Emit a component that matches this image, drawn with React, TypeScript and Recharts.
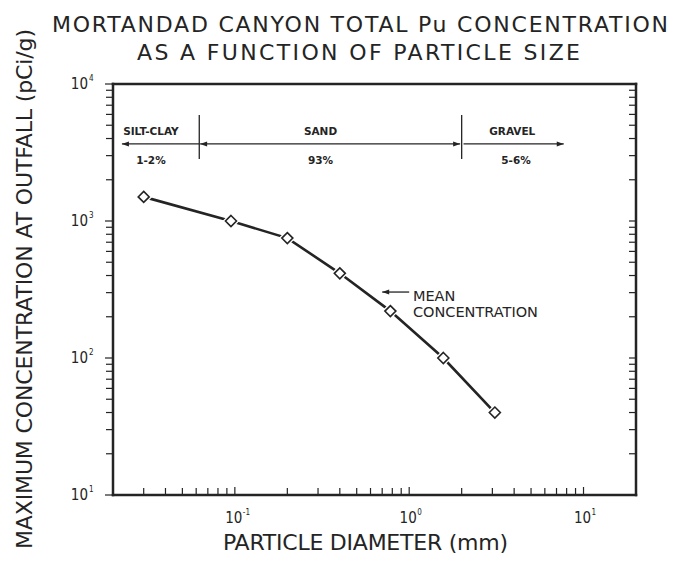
import React from "react";
import { LineChart, Line, XAxis, YAxis, ReferenceLine, ReferenceDot } from "recharts";

// measured points: particle diameter (mm) vs max concentration (pCi/g)
const diameters = [0.03, 0.095, 0.2, 0.4, 0.78, 1.57, 3.1];
const concentrations = [1500, 1000, 750, 415, 220, 100, 40];

const xDomain = [0.02, 20];
const yDomain = [10, 10000];
const xAllTicks = [
  0.03, 0.04, 0.05, 0.06, 0.07, 0.08, 0.09, 0.1,
  0.2, 0.3, 0.4, 0.5, 0.6, 0.7, 0.8, 0.9, 1,
  2, 3, 4, 5, 6, 7, 8, 9, 10,
];
const yAllTicks = [
  10, 20, 30, 40, 50, 60, 70, 80, 90,
  100, 200, 300, 400, 500, 600, 700, 800, 900,
  1000, 2000, 3000, 4000, 5000, 6000, 7000, 8000, 9000, 10000,
];

// size classes across the top
const zoneNames = ["SILT-CLAY", "SAND", "GRAVEL"];
const zoneShares = ["1-2%", "93%", "5-6%"];
const zoneNameX = [0.033, 0.31, 3.9];
const zoneShareX = [0.033, 0.31, 4.1];
const zoneBounds = [0.0625, 2];
const zoneArrows = [
  { from: 0.0625, to: 0.0225, headStart: false, headEnd: true },
  { from: 0.0632, to: 1.96, headStart: true, headEnd: true },
  { from: 2.05, to: 7.7, headStart: false, headEnd: true },
];
const ZONE_NAME_Y = 4250;
const ZONE_SHARE_Y = 2600;
const ZONE_ARROW_Y = 3650;
const ZONE_LINE_TOP = 5940;
const ZONE_LINE_BOTTOM = 2840;

// "mean concentration" pointer
const meanArrow = { from: 1.0, to: 0.7, y: 303 };
const meanText = [
  { text: "MEAN", x: 1.05, y: 261 },
  { text: "CONCENTRATION", x: 1.05, y: 199 },
];

const data = diameters.map((d, i) => ({ d, c: concentrations[i] }));

const INK = "#242424";
const FONT = "'DejaVu Sans', sans-serif";
const TICK_FONT = "'DejaVu Sans Condensed', 'DejaVu Sans', sans-serif";
const TICK_LEN = 7;

const isMajor = (v: number) => {
  const l = Math.log10(v);
  return Math.abs(l - Math.round(l)) < 1e-6;
};

// bottom axis: inward tick plus label on the decades
function XTick(props: any) {
  const { x, y, payload } = props;
  const major = isMajor(payload.value);
  const exp = Math.round(Math.log10(payload.value));
  return (
    <g fill={INK} fontFamily={TICK_FONT}>
      <line x1={x} y1={y} x2={x} y2={y - (major ? TICK_LEN + 1 : TICK_LEN)} stroke={INK} strokeWidth={1.2} />
      {major && (
        <>
          <text x={x - 1} y={y + 28} fontSize={15} textAnchor="middle">10</text>
          <text x={x + 8} y={y + 20} fontSize={8} textAnchor="start">{exp}</text>
        </>
      )}
    </g>
  );
}

// left axis: outward tick plus label on the decades
function YTick(props: any) {
  const { x, y, payload } = props;
  const major = isMajor(payload.value);
  const exp = Math.round(Math.log10(payload.value));
  return (
    <g fill={INK} fontFamily={TICK_FONT}>
      <line x1={x} y1={y} x2={x - (major ? TICK_LEN + 1 : TICK_LEN)} y2={y} stroke={INK} strokeWidth={1.2} />
      {major && (
        <>
          <text x={x - 25} y={y + 5} fontSize={15} textAnchor="end">10</text>
          <text x={x - 24} y={y - 3} fontSize={8} textAnchor="start">{exp}</text>
        </>
      )}
    </g>
  );
}

// inward tick marks for top and right
function makeMark(dx: number, dy: number) {
  return function Mark(props: any) {
    const { x, y } = props;
    return <line x1={x} y1={y} x2={x + dx * TICK_LEN} y2={y + dy * TICK_LEN} stroke={INK} strokeWidth={1.2} />;
  };
}
const TopMark = makeMark(0, 1);
const RightMark = makeMark(-1, 0);

const diamond = (cx: number, cy: number, r: number) =>
  `M${cx},${cy - r}L${cx + r},${cy}L${cx},${cy + r}L${cx - r},${cy}Z`;

function DiamondDot(props: any) {
  const { cx, cy, index } = props;
  if (cx == null || cy == null) return null;
  return (
    <g key={`dot-${index}`}>
      <path d={diamond(cx, cy, 8.5)} fill="#fff" />
      <path d={diamond(cx, cy, 5.5)} fill="#fff" stroke={INK} strokeWidth={1.6} />
    </g>
  );
}

function ArrowShape(props: any) {
  const { x1, y1, x2, y2, headStart, headEnd } = props;
  const head = (tx: number, ty: number, fx: number) => {
    const dir = tx > fx ? 1 : -1;
    return (
      <path
        d={`M${tx},${ty}L${tx - dir * 7},${ty - 2.5}L${tx - dir * 7},${ty + 2.5}Z`}
        fill={INK}
      />
    );
  };
  return (
    <g>
      <line x1={x1} y1={y1} x2={x2} y2={y2} stroke={INK} strokeWidth={1.3} />
      {headStart && head(x1, y1, x2)}
      {headEnd && head(x2, y2, x1)}
    </g>
  );
}

function Label(props: any) {
  const { cx, cy, text, size, weight } = props;
  return (
    <text x={cx} y={cy} fill={INK} fontSize={size} fontWeight={weight} fontFamily={FONT}
      textAnchor={props.anchor || "middle"}>
      {text}
    </text>
  );
}

export default function App() {
  const frameLine = { stroke: INK, strokeWidth: 2.5, strokeLinecap: "square" as const };
  return (
    <div style={{ position: "relative", width: 676, height: 572, background: "#fff" }}>
      <style>{"body{margin:0;background:#fff}"}</style>
      <LineChart
        width={676}
        height={572}
        data={data}
        margin={{ top: 84, right: 40, bottom: 37, left: 53 }}
      >
        <XAxis
          xAxisId="x"
          dataKey="d"
          type="number"
          scale="log"
          domain={xDomain}
          allowDataOverflow
          ticks={xAllTicks}
          interval={0}
          height={40}
          tickSize={0}
          tickMargin={0}
          tickLine={false}
          axisLine={frameLine}
          tick={<XTick />}
        />
        <XAxis
          xAxisId="xt"
          type="number"
          scale="log"
          domain={xDomain}
          allowDataOverflow
          ticks={xAllTicks}
          interval={0}
          orientation="top"
          mirror
          tickSize={0}
          tickMargin={0}
          tickLine={false}
          tick={<TopMark />}
          axisLine={frameLine}
        />
        <YAxis
          yAxisId="y"
          type="number"
          scale="log"
          domain={yDomain}
          allowDataOverflow
          ticks={yAllTicks}
          interval={0}
          width={60}
          tickSize={0}
          tickMargin={0}
          tickLine={false}
          axisLine={frameLine}
          tick={<YTick />}
        />
        <YAxis
          yAxisId="yr"
          type="number"
          scale="log"
          domain={yDomain}
          allowDataOverflow
          ticks={yAllTicks}
          interval={0}
          orientation="right"
          mirror
          tickSize={0}
          tickMargin={0}
          tickLine={false}
          tick={<RightMark />}
          axisLine={frameLine}
        />

        {zoneBounds.map((b) => (
          <ReferenceLine
            key={`zb-${b}`}
            xAxisId="x"
            yAxisId="y"
            segment={[{ x: b, y: ZONE_LINE_BOTTOM }, { x: b, y: ZONE_LINE_TOP }]}
            stroke={INK}
            strokeWidth={1.3}
          />
        ))}
        {zoneArrows.map((a, i) => (
          <ReferenceLine
            key={`za-${i}`}
            xAxisId="x"
            yAxisId="y"
            segment={[{ x: a.from, y: ZONE_ARROW_Y }, { x: a.to, y: ZONE_ARROW_Y }]}
            shape={(p: any) => <ArrowShape {...p} headStart={a.headStart} headEnd={a.headEnd} />}
          />
        ))}
        {zoneNames.map((n, i) => (
          <ReferenceDot
            key={`zn-${n}`}
            xAxisId="x"
            yAxisId="y"
            x={zoneNameX[i]}
            y={ZONE_NAME_Y}
            r={1}
            shape={(p: any) => <Label {...p} text={n} size={10.5} weight="bold" />}
          />
        ))}
        {zoneShares.map((s, i) => (
          <ReferenceDot
            key={`zs-${s}`}
            xAxisId="x"
            yAxisId="y"
            x={zoneShareX[i]}
            y={ZONE_SHARE_Y}
            r={1}
            shape={(p: any) => <Label {...p} text={s} size={10.5} weight="bold" />}
          />
        ))}
        <ReferenceLine
          xAxisId="x"
          yAxisId="y"
          segment={[{ x: meanArrow.from, y: meanArrow.y }, { x: meanArrow.to, y: meanArrow.y }]}
          shape={(p: any) => <ArrowShape {...p} headStart={false} headEnd={true} />}
        />
        {meanText.map((t) => (
          <ReferenceDot
            key={`mt-${t.text}`}
            xAxisId="x"
            yAxisId="y"
            x={t.x}
            y={t.y}
            r={1}
            shape={(p: any) => <Label {...p} text={t.text} size={14.5} weight="normal" anchor="start" />}
          />
        ))}

        <Line
          xAxisId="x"
          yAxisId="y"
          dataKey="c"
          type="linear"
          stroke={INK}
          strokeWidth={2.6}
          dot={(p: any) => <DiamondDot {...p} />}
          activeDot={false}
          isAnimationActive={false}
        />
      </LineChart>

      <svg
        width={676}
        height={572}
        style={{ position: "absolute", left: 0, top: 0, pointerEvents: "none" }}
      >
        <g fill={INK} fontFamily={FONT} fontSize={22}>
          <text x={360} y={32} textAnchor="middle" textLength={616} lengthAdjust="spacing">
            MORTANDAD CANYON TOTAL Pu CONCENTRATION
          </text>
          <text x={358.5} y={60} textAnchor="middle" textLength={443} lengthAdjust="spacing">
            AS A FUNCTION OF PARTICLE SIZE
          </text>
          <text x={365.5} y={550} textAnchor="middle" textLength={285} lengthAdjust="spacing">
            PARTICLE DIAMETER (mm)
          </text>
          <text
            x={0}
            y={0}
            transform="translate(32,289) rotate(-90)"
            textAnchor="middle"
            textLength={520}
            lengthAdjust="spacing"
          >
            MAXIMUM CONCENTRATION AT OUTFALL (pCi/g)
          </text>
        </g>
      </svg>
    </div>
  );
}
